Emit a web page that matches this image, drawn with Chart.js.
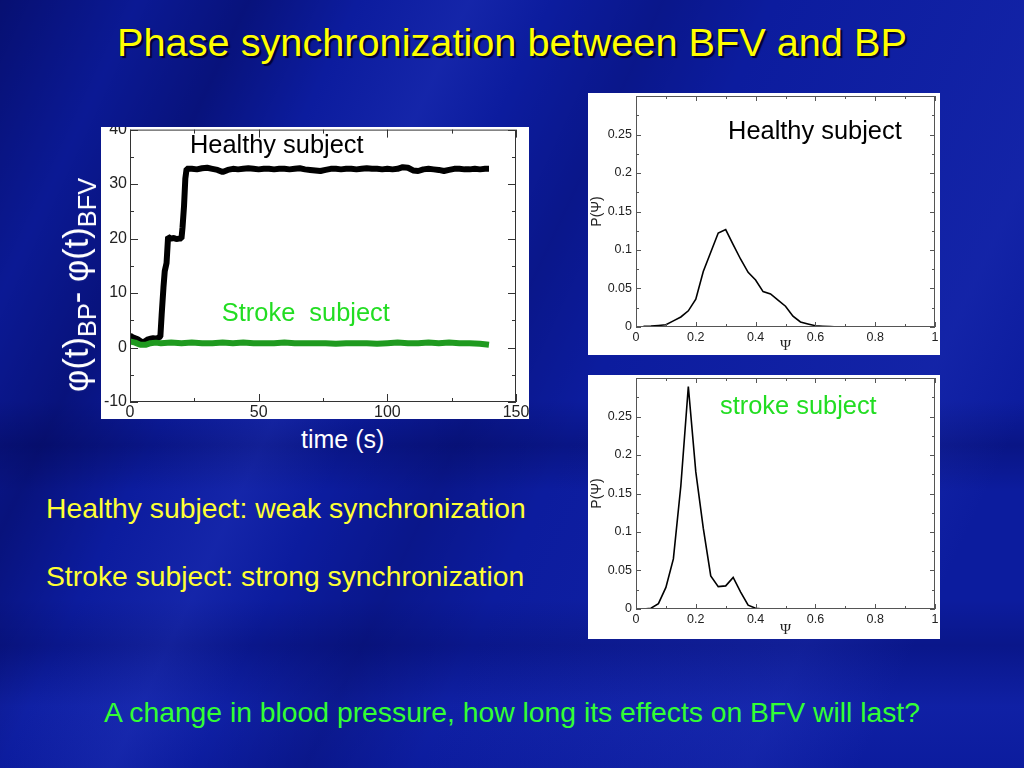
<!DOCTYPE html>
<html>
<head>
  <title>Phase synchronization between BFV and BP</title>
  <script src="https://cdn.jsdelivr.net/npm/chart.js"></script>
  <style>
    html, body { margin: 0; padding: 0; }
    body {
      width: 1024px; height: 768px; overflow: hidden; position: relative;
      font-family: "Liberation Sans", Arial, sans-serif;
      background:
        linear-gradient(115deg, rgba(0,0,60,0.45) 0%, rgba(0,0,60,0.1) 10%, rgba(0,0,60,0.35) 18%, rgba(0,0,0,0) 26%, rgba(60,80,220,0.18) 34%, rgba(0,0,0,0) 40%, rgba(0,0,60,0.2) 48%, rgba(0,0,0,0) 56%, rgba(60,80,220,0.15) 80%, rgba(0,0,0,0) 88%),
        linear-gradient(180deg, rgba(0,0,0,0) 52%, rgba(0,0,60,0.25) 58%, rgba(0,0,0,0) 64%, rgba(0,0,0,0) 78%, rgba(0,0,60,0.2) 84%, rgba(30,50,190,0.2) 92%, rgba(0,0,0,0) 100%),
        #0c1c9e;
    }
    .txt { position: absolute; white-space: nowrap; line-height: 1; }
    .box { position: absolute; overflow: hidden; background: #fff; }
    .box canvas { position: absolute; left: 0; top: -10px; }
  </style>
</head>
<body>
  <div class="txt" id="title" style="left:0; width:1024px; text-align:center; top:23px; font-size:39.7px; color:#ffff00; text-shadow:2px 2px 1px #000033;">Phase synchronization between BFV and BP</div>

  <div class="box" style="left:101px; top:127px; width:428px; height:292px;">
    <canvas id="phase" width="443" height="302" style="width:443px;height:302px;"></canvas>
  </div>
  <div class="box" style="left:588px; top:93px; width:352px; height:262px;">
    <canvas id="distHealthy" width="362" height="272" style="width:362px;height:272px;"></canvas>
  </div>
  <div class="box" style="left:588px; top:375px; width:352px; height:264px;">
    <canvas id="distStroke" width="362" height="274" style="width:362px;height:274px;"></canvas>
  </div>

  <div class="txt" id="ylab" style="left:80px; top:285px; color:#fff; font-size:30px;">&phi;(t)<sub style="font-size:22px;">BP</sub>- &phi;(t)<sub style="font-size:22px;">BFV</sub></div>
  <div class="txt" style="left:301px; top:427px; font-size:25px; color:#fff;">time (s)</div>

  <div class="txt" style="left:46px; top:494px; font-size:28.3px; color:#ffff33;">Healthy subject: weak synchronization</div>
  <div class="txt" style="left:46px; top:562px; font-size:28.3px; color:#ffff33;">Stroke subject: strong synchronization</div>
  <div class="txt" style="left:0; width:1024px; text-align:center; top:698px; font-size:28.3px; color:#33ff33;">A change in blood pressure, how long its effects on BFV will last?</div>

  <script>
// ---- phase difference vs time (seconds) ----
const tHealthy = [0, 1, 2, 3, 4, 5, 6, 7, 8, 9, 10, 11, 11.8, 12.3, 13, 13.5, 14.2, 14.8, 16, 17, 18, 19, 20, 20.4, 21, 21.5, 22,
  24, 26, 28, 30, 32, 34, 36, 38, 40, 42, 44, 46, 48, 50, 52, 54, 56, 58, 60, 62, 64, 66, 68, 70, 72, 74, 76, 78, 80,
  82, 84, 86, 88, 90, 92, 94, 96, 98, 100, 102, 104, 106, 108, 110, 112, 114, 116, 118, 120, 122, 124, 126, 128, 130,
  132, 134, 136, 138, 139.5];
const healthyPhase = [2.2, 1.9, 1.7, 1.5, 1.2, 0.9, 1.2, 1.5, 1.6, 1.7, 1.6, 1.8, 2.0, 6, 11, 14, 15.5, 20.3, 20.0, 20.1, 19.9, 20.0, 20.0, 22, 26, 31, 32.8,
  32.8, 32.7, 32.9, 33.0, 32.8, 32.6, 32.2, 32.6, 32.8, 32.7, 32.8, 32.9, 32.8, 32.7, 32.8, 32.8, 32.7, 32.8, 32.8,
  32.7, 32.8, 32.9, 32.7, 32.6, 32.5, 32.4, 32.6, 32.8, 32.8, 32.7, 32.8, 32.8, 32.7, 32.8, 32.9, 32.8, 32.8, 32.7,
  32.8, 32.7, 32.8, 33.1, 33.0, 32.5, 32.4, 32.7, 32.8, 32.7, 32.6, 32.4, 32.6, 32.8, 32.8, 32.7, 32.7, 32.8, 32.7,
  32.8, 32.8];

const tStroke = [0, 2, 4, 6, 8, 10, 12, 16, 20, 24, 28, 32, 36, 40, 44, 48, 52, 56, 60, 64, 68, 72, 76, 80, 84, 88, 92,
  96, 100, 104, 108, 112, 116, 120, 124, 128, 132, 136, 139.5];
const strokePhase = [1.1, 0.9, 0.5, 0.5, 0.8, 0.9, 0.8, 0.9, 0.8, 0.9, 0.8, 0.8, 0.9, 0.8, 0.9, 0.8, 0.8, 0.8, 0.9, 0.8,
  0.8, 0.8, 0.8, 0.7, 0.8, 0.8, 0.8, 0.7, 0.8, 0.9, 0.8, 0.8, 0.9, 0.8, 0.9, 0.8, 0.8, 0.7, 0.5];

// ---- distributions P(psi) ----
const psi = [0.025, 0.05, 0.075, 0.1, 0.125, 0.15, 0.175, 0.2, 0.225, 0.25, 0.275, 0.3, 0.325, 0.35, 0.375, 0.4,
  0.425, 0.45, 0.475, 0.5, 0.525, 0.55, 0.575, 0.6, 0.625, 0.65, 0.675, 0.7, 0.725, 0.75, 0.775, 0.8, 0.825,
  0.85, 0.875, 0.9, 0.925, 0.95, 0.975, 1.0];
const pHealthy = [0.001, 0.0012, 0.002, 0.003, 0.008, 0.013, 0.021, 0.036, 0.072, 0.097, 0.122, 0.1265, 0.107, 0.088,
  0.071, 0.061, 0.046, 0.043, 0.035, 0.027, 0.014, 0.0065, 0.004, 0.0017, 0.001, 0.0005, 0, 0, 0, 0, 0, 0, 0,
  0, 0, 0, 0, 0, 0, 0];
const pStroke = [0, 0.001, 0.007, 0.028, 0.065, 0.16, 0.289, 0.178, 0.105, 0.043, 0.029, 0.030, 0.041, 0.022, 0.005,
  0.001, 0, 0, 0, 0, 0, 0, 0, 0, 0, 0, 0, 0, 0, 0, 0, 0, 0, 0, 0, 0, 0, 0, 0, 0];

const FONT = '"Liberation Sans", Arial, sans-serif';
const toPoints = (xs, ys) => xs.map((x, i) => ({ x: x, y: ys[i] }));

// frame + inward ticks on all four sides, xmgrace style
const frameTicks = {
  id: 'frameTicks',
  afterDatasetsDraw(chart, args, o) {
    const { ctx, chartArea: a, scales: { x, y } } = chart;
    ctx.save();
    ctx.strokeStyle = o.color;
    ctx.lineWidth = 1;
    ctx.strokeRect(a.left + 0.5, a.top + 0.5, a.right - a.left - 1, a.bottom - a.top - 1);
    ctx.beginPath();
    const eps = 1e-9;
    for (let v = x.min; v <= x.max + eps; v += o.xMinor) {
      const major = Math.abs(Math.round(v / o.xMajor) * o.xMajor - v) < 1e-6;
      const len = major ? o.major : o.minor;
      const px = Math.round(x.getPixelForValue(v)) + 0.5;
      ctx.moveTo(px, a.bottom); ctx.lineTo(px, a.bottom - len);
      ctx.moveTo(px, a.top); ctx.lineTo(px, a.top + len);
    }
    for (let v = y.min; v <= y.max + eps; v += o.yMinor) {
      const major = Math.abs(Math.round(v / o.yMajor) * o.yMajor - v) < 1e-6;
      const len = major ? o.major : o.minor;
      const py = Math.round(y.getPixelForValue(v)) + 0.5;
      ctx.moveTo(a.left, py); ctx.lineTo(a.left + len, py);
      ctx.moveTo(a.right, py); ctx.lineTo(a.right - len, py);
    }
    ctx.stroke();
    ctx.restore();
  }
};

// text labels placed in data coordinates
const dataLabels = {
  id: 'dataLabels',
  afterDatasetsDraw(chart, args, o) {
    const { ctx, scales: { x, y } } = chart;
    ctx.save();
    ctx.textAlign = 'left';
    ctx.textBaseline = 'middle';
    o.items.forEach(it => {
      ctx.font = it.size + 'px ' + FONT;
      ctx.fillStyle = it.color;
      ctx.fillText(it.text, x.getPixelForValue(it.x), y.getPixelForValue(it.y));
    });
    ctx.restore();
  }
};

new Chart(document.getElementById('phase'), {
  type: 'line',
  data: {
    datasets: [
      {
        label: 'Stroke subject',
        data: toPoints(tStroke, strokePhase),
        borderColor: '#1f9a1f',
        borderWidth: 6,
        pointRadius: 0,
        borderJoinStyle: 'bevel'
      },
      {
        label: 'Healthy subject',
        data: toPoints(tHealthy, healthyPhase),
        borderColor: '#000000',
        borderWidth: 6,
        pointRadius: 0,
        borderJoinStyle: 'bevel'
      }
    ]
  },
  options: {
    animation: false,
    responsive: false,
    layout: { padding: { top: 10, right: 28, left: 0, bottom: 0 } },
    plugins: {
      legend: { display: false },
      tooltip: { enabled: false },
      frameTicks: { color: '#333', major: 8, minor: 4, xMajor: 50, xMinor: 25, yMajor: 10, yMinor: 5 },
      dataLabels: { items: [
        { text: 'Healthy subject', x: 23.3, y: 36.9, color: '#000', size: 25.4 },
        { text: 'Stroke  subject', x: 35.7, y: 6.2, color: '#22dd22', size: 25.4 }
      ] }
    },
    scales: {
      x: {
        type: 'linear', min: 0, max: 150,
        grid: { display: false, drawTicks: false },
        border: { display: false },
        ticks: { stepSize: 50, color: '#222', padding: 1, font: { family: FONT, size: 16 } },
        afterFit: s => { s.height = 17; }
      },
      y: {
        type: 'linear', min: -10, max: 40,
        grid: { display: false, drawTicks: false },
        border: { display: false },
        ticks: { stepSize: 10, color: '#222', padding: 3, font: { family: FONT, size: 16 } },
        afterFit: s => { s.width = 29; }
      }
    }
  },
  plugins: [frameTicks, dataLabels]
});

function distChart(id, values, label, labelColor, labelX, labelY, canvasH) {
  new Chart(document.getElementById(id), {
    type: 'line',
    data: {
      datasets: [{
        label: label,
        data: toPoints(psi, values),
        borderColor: '#000',
        borderWidth: 1.6,
        pointRadius: 0
      }]
    },
    options: {
      animation: false,
      responsive: false,
      layout: { padding: { top: 13, right: 15, left: 0, bottom: 0 } },
      plugins: {
        legend: { display: false },
        tooltip: { enabled: false },
        frameTicks: { color: '#555', major: 5, minor: 3, xMajor: 0.2, xMinor: 0.1, yMajor: 0.05, yMinor: 0.025 },
        dataLabels: { items: [{ text: label, x: labelX, y: labelY, color: labelColor, size: 25.4 }] }
      },
      scales: {
        x: {
          type: 'linear', min: 0, max: 1,
          grid: { display: false, drawTicks: false },
          border: { display: false },
          ticks: {
            stepSize: 0.2, color: '#222', padding: 3, font: { family: FONT, size: 12.5 },
            callback: v => String(Math.round(v * 10) / 10)
          },
          title: { display: true, text: '\u03A8', color: '#222', padding: { top: 0, bottom: 0 }, font: { family: '"Liberation Serif", serif', size: 15 } },
          afterFit: s => { s.height = canvasH - 244; }
        },
        y: {
          type: 'linear', min: 0, max: 0.3,
          grid: { display: false, drawTicks: false },
          border: { display: false },
          ticks: {
            stepSize: 0.05, color: '#222', padding: 4, font: { family: FONT, size: 12.5 },
            callback: v => (v >= 0.299 ? '' : String(Math.round(v * 100) / 100))
          },
          title: { display: true, text: 'P(\u03A8)', color: '#222', padding: { top: 1, bottom: 0 }, font: { family: FONT, size: 14 } },
          afterFit: s => { s.width = 48; }
        }
      }
    },
    plugins: [frameTicks, dataLabels]
  });
}

distChart('distHealthy', pHealthy, 'Healthy subject', '#000', 0.308, 0.253, 272);
distChart('distStroke', pStroke, 'stroke subject', '#22dd22', 0.281, 0.262, 274);

// rotate the y label of the phase chart and fit it to its span
const yl = document.getElementById('ylab');
const k = 214 / yl.offsetWidth;
yl.style.transform = 'translate(-50%, -50%) rotate(-90deg) scale(' + k.toFixed(3) + ')';
  </script>
</body>
</html>
